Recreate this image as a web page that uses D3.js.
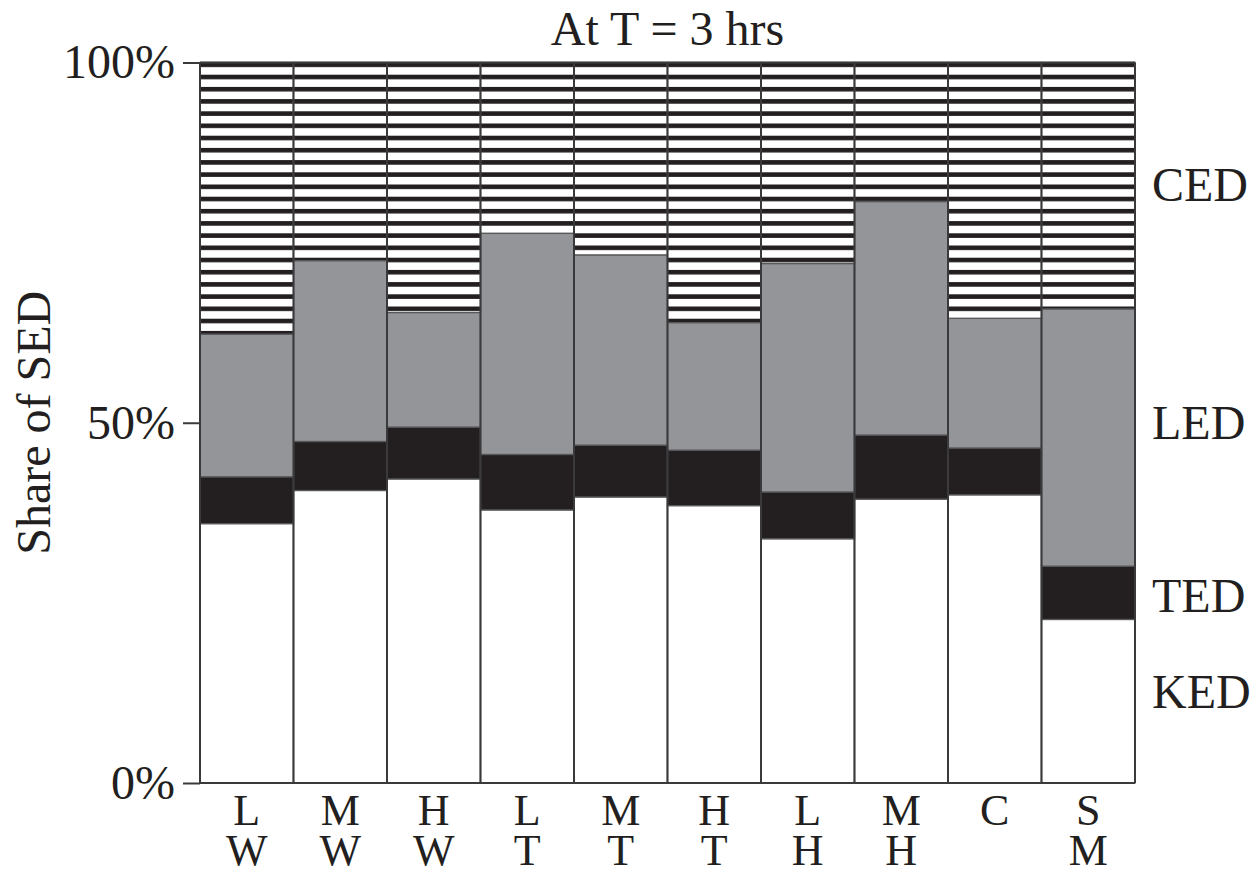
<!DOCTYPE html>
<html>
<head>
<meta charset="utf-8">
<script src="https://cdn.jsdelivr.net/npm/d3@7"></script>
<style>
  body { margin: 0; background: #fff; }
  text { font-family: "Liberation Serif", "Times New Roman", serif; fill: #231f20; }
</style>
</head>
<body>
<div id="chart"></div>
<script>
// groups along the x axis (two-line labels)
const topLabels = ["L", "M", "H", "L", "M", "H", "L", "M", "C", "S"];
const bottomLabels = ["W", "W", "W", "T", "T", "T", "H", "H", "", "M"];

// shares of SED, in %, stacked bottom to top
const KED = [36.0, 40.6, 42.2, 37.9, 39.7, 38.5, 33.9, 39.4, 40.0, 22.7];
const TED = [6.5, 6.8, 7.2, 7.7, 7.2, 7.7, 6.5, 8.9, 6.5, 7.4];
const LED = [19.8, 25.1, 15.9, 30.7, 26.4, 17.7, 31.7, 32.4, 18.0, 35.7];
const CED = [37.7, 27.5, 34.7, 23.7, 26.7, 36.1, 27.9, 19.3, 35.5, 34.2];

const seriesKeys = ["KED", "TED", "LED", "CED"];
const seriesLabelPos = [12.6, 26, 50, 83]; // where the right-side labels sit, in %
const yTicks = [0, 50, 100];

const W = 1254, H = 875;
const margin = { top: 62.5, right: 119, bottom: 92, left: 200 };

const rows = topLabels.map((t, i) => ({
    id: i, top: t, bottom: bottomLabels[i],
    KED: KED[i], TED: TED[i], LED: LED[i], CED: CED[i]
}));

const svg = d3.select("#chart").append("svg")
    .attr("width", W)
    .attr("height", H);

const x = d3.scaleBand()
    .domain(rows.map(d => d.id))
    .range([margin.left, W - margin.right])
    .padding(0);

const y = d3.scaleLinear()
    .domain([0, 100])
    .range([H - margin.bottom, margin.top]);

// horizontal hatch for CED, anchored at the top of the plot
const defs = svg.append("defs");
const period = 12.2;
const pat = defs.append("pattern")
    .attr("id", "hatch")
    .attr("patternUnits", "userSpaceOnUse")
    .attr("x", 0)
    .attr("y", margin.top)
    .attr("width", 20)
    .attr("height", period);
pat.append("rect").attr("width", 20).attr("height", period).attr("fill", "#fff");
pat.append("rect").attr("width", 20).attr("height", 4.6).attr("fill", "#231f20");

const fills = { KED: "#ffffff", TED: "#231f20", LED: "#939598", CED: "url(#hatch)" };

const stacked = d3.stack().keys(seriesKeys)(rows);

svg.append("g")
    .selectAll("g")
    .data(stacked)
    .join("g")
    .attr("fill", d => fills[d.key])
    .selectAll("rect")
    .data(d => d)
    .join("rect")
    .attr("x", d => x(d.data.id))
    .attr("width", x.bandwidth())
    .attr("y", d => y(d[1]))
    .attr("height", d => y(d[0]) - y(d[1]))
    .attr("stroke", "#58585a")
    .attr("stroke-width", 1.3);

// bar separators
svg.append("g")
    .selectAll("line")
    .data(rows)
    .join("line")
    .attr("x1", d => x(d.id) + x.bandwidth())
    .attr("x2", d => x(d.id) + x.bandwidth())
    .attr("y1", y(0))
    .attr("y2", y(100))
    .attr("stroke", "#3a3a3c")
    .attr("stroke-width", 2);

// frame: left axis line, top and bottom edges
const frame = svg.append("g").attr("stroke", "#3a3a3c").attr("stroke-width", 2);
frame.append("line").attr("x1", margin.left).attr("x2", margin.left).attr("y1", y(0)).attr("y2", y(100));
frame.append("line").attr("x1", margin.left).attr("x2", W - margin.right).attr("y1", y(100)).attr("y2", y(100));
frame.append("line").attr("x1", margin.left).attr("x2", W - margin.right).attr("y1", y(0)).attr("y2", y(0));

// y axis ticks and labels
const yAxis = d3.axisLeft(y)
    .tickValues(yTicks)
    .tickSize(17)
    .tickPadding(8)
    .tickFormat(d => d + "%");

svg.append("g")
    .attr("transform", `translate(${margin.left},0)`)
    .call(yAxis)
    .call(g => g.select(".domain").remove())
    .call(g => g.selectAll(".tick line").attr("stroke", "#3a3a3c").attr("stroke-width", 2))
    .call(g => g.selectAll(".tick text")
        .attr("font-size", 48)
        .attr("font-family", "Liberation Serif, Times New Roman, serif")
        .attr("fill", "#231f20"));

// x labels, two lines
const xl = svg.append("g")
    .selectAll("g")
    .data(rows)
    .join("g")
    .attr("transform", d => `translate(${x(d.id) + x.bandwidth() / 2},0)`);
xl.append("text")
    .attr("y", 825)
    .attr("text-anchor", "middle")
    .attr("font-size", 44)
    .text(d => d.top);
xl.append("text")
    .attr("y", 865)
    .attr("text-anchor", "middle")
    .attr("font-size", 44)
    .text(d => d.bottom);

// series names on the right
svg.append("g")
    .selectAll("text")
    .data(seriesKeys)
    .join("text")
    .attr("x", 1152)
    .attr("y", (d, i) => y(seriesLabelPos[i]))
    .attr("dy", "0.33em")
    .attr("font-size", 48)
    .text(d => d);

// title
svg.append("text")
    .attr("x", (margin.left + W - margin.right) / 2)
    .attr("y", 45)
    .attr("text-anchor", "middle")
    .attr("font-size", 48)
    .text("At T = 3 hrs");

// y axis title
svg.append("text")
    .attr("transform", `translate(50,${y(50)}) rotate(-90)`)
    .attr("text-anchor", "middle")
    .attr("font-size", 48)
    .text("Share of SED");
</script>
</body>
</html>
